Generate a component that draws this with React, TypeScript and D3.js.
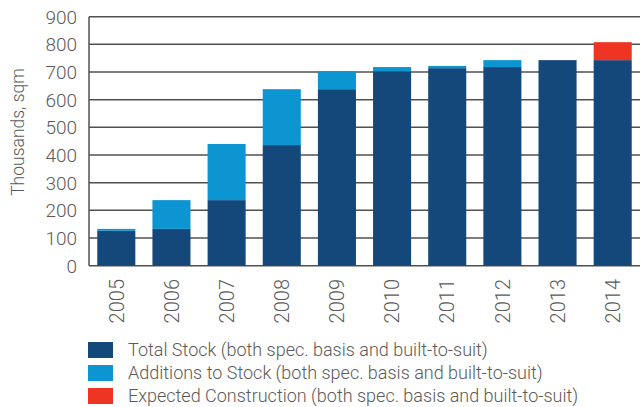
import React from "react";
import * as d3 from "d3";

const years = ["2005", "2006", "2007", "2008", "2009", "2010", "2011", "2012", "2013", "2014"];
const totalStock = [126, 133, 237, 436, 638, 703, 714, 718, 743, 743];
const additions = [7, 104, 203, 202, 65, 15, 8, 25, 0, 0];
const expected = [0, 0, 0, 0, 0, 0, 0, 0, 0, 65];
const yTicks = [0, 100, 200, 300, 400, 500, 600, 700, 800, 900];
const seriesNames = [
  "Total Stock (both spec. basis and built-to-suit)",
  "Additions to Stock (both spec. basis and built-to-suit)",
  "Expected Construction (both spec. basis and built-to-suit)",
];
const colors = ["#14487a", "#0c95d1", "#ee3524"];

const W = 640;
const H = 407;
const left = 89;
const right = 640;
const top = 16.7;
const bottom = 265.7;
const FONT = "Roboto, 'Open Sans', sans-serif";
const TXT = "#5a5a5a";

export default function App() {
  const x = d3.scaleBand<string>().domain(years).range([left, right]).paddingInner(0.31).paddingOuter(0.15);
  const y = d3.scaleLinear().domain([0, 900]).range([bottom, top]);

  const rows = years.map((yr, i) => ({ year: yr, total: totalStock[i], add: additions[i], exp: expected[i] }));
  const stack = d3.stack<any>().keys(["total", "add", "exp"])(rows);

  return (
    <svg width={W} height={H} style={{ position: "absolute", left: 0, top: 0 }} fontFamily={FONT}>
      {yTicks.map((t) => (
        <line key={"g" + t} x1={left} x2={right} y1={y(t)} y2={y(t)} stroke="#505050" strokeWidth={1.5} />
      ))}
      <line x1={left} x2={left} y1={top} y2={bottom} stroke="#505050" strokeWidth={1.5} />
      {stack.map((s, si) =>
        s.map((d, i) =>
          d[1] - d[0] > 0 ? (
            <rect
              key={si + "-" + i}
              x={x(years[i])}
              width={x.bandwidth()}
              y={y(d[1])}
              height={y(d[0]) - y(d[1])}
              fill={colors[si]}
            />
          ) : null
        )
      )}
      {yTicks.map((t) => (
        <text key={"t" + t} x={77} y={y(t)} dy="0.36em" textAnchor="end" fontSize={19} fill={TXT} fontWeight={300}>
          {t}
        </text>
      ))}
      <text
        transform={`translate(24,132) rotate(-90)`}
        textAnchor="middle"
        fontSize={17.5}
        fill={TXT}
        fontWeight={300}
      >
        Thousands, sqm
      </text>
      {years.map((yr) => (
        <text
          key={"x" + yr}
          transform={`translate(${(x(yr) as number) + x.bandwidth() / 2},279) rotate(-90)`}
          textAnchor="end"
          dy="0.36em"
          fontSize={20}
          fill={TXT}
          fontWeight={300}
        >
          {yr}
        </text>
      ))}
      {seriesNames.map((n, i) => (
        <g key={"l" + i} transform={`translate(88,${342 + i * 23})`}>
          <rect width={25} height={16} fill={colors[i]} />
          <text x={40} y={14} fontSize={18} fill={TXT} fontWeight={300}>
            {n}
          </text>
        </g>
      ))}
    </svg>
  );
}
